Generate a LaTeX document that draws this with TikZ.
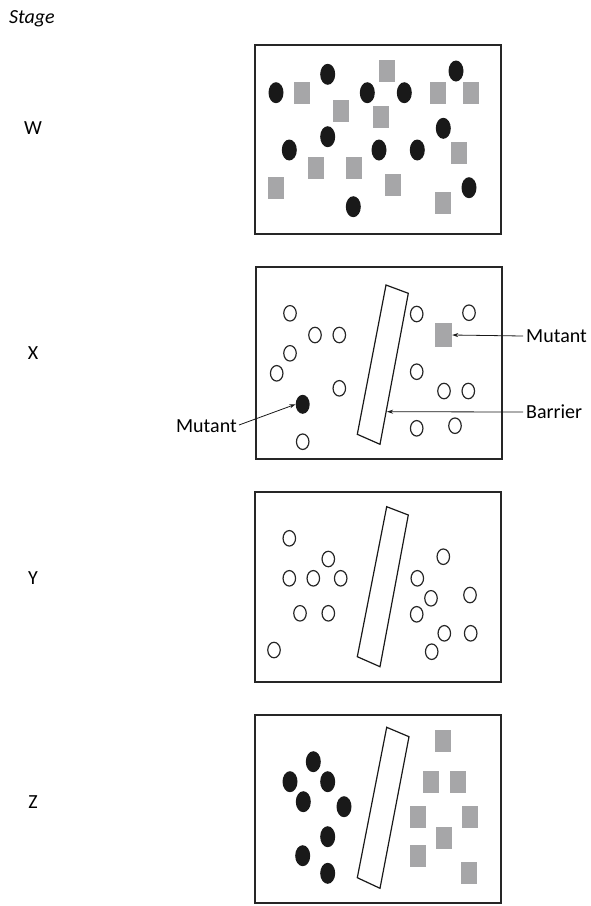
\documentclass[tikz,border=0pt]{standalone}
\usepackage{fontspec}
\setmainfont{Carlito}
\usetikzlibrary{shapes.geometric,arrows.meta}
\definecolor{sq}{RGB}{166,166,168}
\begin{document}
\begin{tikzpicture}[x=1pt,y=-1pt,
  frame/.style={draw=black!85, line width=1.5pt},
  bdot/.style={ellipse, fill=black!90, inner sep=0pt, minimum width=15pt, minimum height=21pt},
  gsq/.style={rectangle, fill=sq, inner sep=0pt, minimum width=16pt, minimum height=22pt},
  odot/.style={ellipse, draw=black!85, line width=1.2pt, inner sep=0pt, minimum width=12.5pt, minimum height=15.5pt},
  barrier/.style={draw=black!90, line width=1.2pt, line join=miter},
  lab/.style={font=\fontsize{20}{22}\selectfont, inner sep=0pt, text=black},
  arr/.style={-{Stealth[length=6pt,width=4pt]}, line width=0.8pt, draw=black!90}]
\path[use as bounding box] (0,0) rectangle (590,906);

% stage labels
\node[lab, font=\fontsize{20}{22}\selectfont\itshape] (stage) at (32,19) {Stage};
\node[lab] (lW) at (33,128) {W};
\node[lab] (lX) at (33,353) {X};
\node[lab] (lY) at (33,578) {Y};
\node[lab] (lZ) at (33,802) {Z};

% frames
\draw[frame] (255,45) rectangle (501,234);
\draw[frame] (256,267) rectangle (502,459);
\draw[frame] (255,492) rectangle (501,682);
\draw[frame] (255,715) rectangle (501,903);

% ===== W =====
\foreach \x/\y [count=\i] in {276/92.7, 327.7/74.3, 367.3/92.7, 404.3/92.7, 456/71, 289.3/150, 327.7/136.7, 379/150, 417.3/150, 443.3/128.3, 469/187.7, 353.3/206.7}
  \node[bdot] (wb\i) at (\x,\y) {};
\foreach \x/\y [count=\i] in {301.7/93.3, 386.7/71, 341.3/110.7, 380.7/117.3, 438.3/93.3, 470.7/93.3, 316/167.7, 354/167.7, 276/187.7, 393.3/185, 458.7/153.3, 443.3/203.3}
  \node[gsq] (wg\i) at (\x,\y) {};

% ===== X =====
\foreach \x/\y [count=\i] in {290/313.3, 315/335, 339.3/335, 290/353.3, 276.7/373.3, 339.3/388.3, 302.7/441.7, 416.7/314, 469/312.7, 416.7/371.7, 444/391, 468.3/391, 416.7/428.3, 455/425.7}
  \node[odot] (xo\i) at (\x,\y) {};
\node[bdot, minimum width=14pt, minimum height=19pt] (xmb) at (302.7,404.3) {};
\node[gsq, minimum width=17pt, minimum height=24pt] (xmg) at (443.5,335) {};
\draw[barrier] (386,285) -- (408.3,293.3) -- (380,444.3) -- (357.3,434.3) -- cycle;
\coordinate (xbar) at (387,411.7);
\node[lab, anchor=west] (tmr) at (526,336) {Mutant};
\node[lab, anchor=west] (tbr) at (526,412) {Barrier};
\node[lab, anchor=east] (tml) at (237,426) {Mutant};
\draw[arr] (tmr.west) ++(-3,0) -- (xmg.east);
\draw[arr] (tbr.west) ++(-3,0) -- (xbar);
\draw[arr] (tml.east) ++(2,-1) -- (xmb.west);

% ===== Y =====
\foreach \x/\y [count=\i] in {289.3/538.3, 289.3/578.3, 313.3/578.3, 328.3/559, 340.7/578.3, 300/613.3, 328.3/613.3, 274/650, 443.3/556.7, 417.3/578.3, 431/598.3, 416.7/614.3, 470/595, 444.3/633.3, 431.7/651.7, 470.7/633.3}
  \node[odot] (yo\i) at (\x,\y) {};
\draw[barrier] (386.7,506.7) -- (408.3,515) -- (380,666.7) -- (357.3,656.7) -- cycle;

% ===== Z =====
\foreach \x/\y [count=\i] in {313.3/761.7, 290/781.7, 327.7/781.7, 303.3/801.7, 344/806.7, 327.7/836.7, 302.7/855.7, 327.7/873.3}
  \node[bdot] (zb\i) at (\x,\y) {};
\foreach \x/\y [count=\i] in {443.3/741, 431/781.7, 458.3/781.7, 418.3/816.7, 470/816.7, 444.3/838.3, 418.3/855.7, 469.3/873.3}
  \node[gsq] (zg\i) at (\x,\y) {};
\draw[barrier] (386.7,727.3) -- (409,736.7) -- (380,888.3) -- (357.3,877.7) -- cycle;
\end{tikzpicture}
\end{document}
